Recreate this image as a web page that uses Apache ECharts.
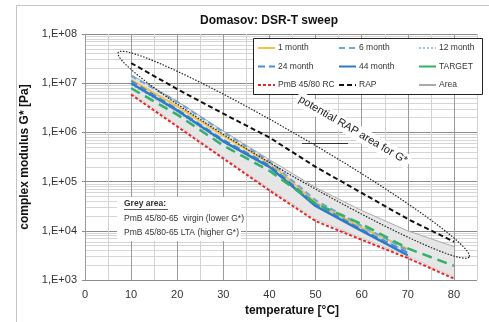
<!DOCTYPE html>
<html>
<head>
<meta charset="utf-8">
<script src="https://cdn.jsdelivr.net/npm/echarts@6/dist/echarts.min.js"></script>
<style>
  html, body { margin: 0; padding: 0; background: #fff; }
  #chart { width: 489px; height: 322px; }
</style>
</head>
<body>
<div id="chart"></div>
<script>
// temperatures [°C]
const temps = [10, 20, 30, 40, 50, 60, 70];
const tempsLong = [10, 20, 30, 40, 50, 60, 70, 80];

// complex modulus G* [Pa]
const month1 = [1.17e7, 3.4e6, 8.5e5, 2.4e5, 3.8e4, 1.17e4, 4.3e3];
const month6 = [1.41e7, 4.2e6, 1.02e6, 2.6e5, 4.2e4, 1.26e4, 4.0e3];
const month12 = [9.3e6, 2.6e6, 6.3e5, 1.9e5, 3.4e4, 1.1e4, 3.7e3];
const month24 = [1.12e7, 2.95e6, 7.1e5, 2.15e5, 3.55e4, 1.07e4, 3.6e3];
const month44 = [1.0e7, 2.8e6, 6.6e5, 2.0e5, 3.2e4, 1.0e4, 3.2e3];
const target = [7.9e6, 2.3e6, 5.4e5, 1.66e5, 3.6e4, 1.38e4, 4.4e3, 1.95e3];
const pmbRC = [5.9e6, 1.32e6, 2.95e5, 6.6e4, 1.58e4, 6.6e3, 2.8e3, 1.07e3];
const rap = [2.57e7, 7.6e6, 2.4e6, 7.9e5, 2.0e5, 5.9e4, 1.74e4, 6.0e3];
// grey area boundaries
const areaLTA = [1.48e7, 4.3e6, 1.07e6, 2.8e5, 7.6e4, 2.6e4, 1.0e4, 4.8e3];
const areaVirgin = [6.3e6, 1.41e6, 3.16e5, 7.2e4, 1.74e4, 7.2e3, 3.1e3, 1.15e3];

// "potential RAP area" ellipse: ends of the long axis
const ellipseT = [7.2, 83.3];
const ellipseG = [4.2e7, 2.95e3];

const font = "'Liberation Sans', Arial, sans-serif";
var chartDom = document.getElementById("chart");
var myChart = echarts.init(chartDom);

function pairs(xs, ys) {
  return xs.map((x, i) => [x, ys[i]]);
}

function lineSeries(name, xs, ys, color, width, type, z) {
  return {
    name: name,
    type: "line",
    data: pairs(xs, ys),
    symbol: "none",
    z: z || 2,
    lineStyle: { color: color, width: width, type: type },
    itemStyle: { color: color },
  };
}

function legendCol(names, left) {
  return {
    orient: "vertical",
    left: left,
    top: 43,
    padding: 0,
    itemGap: 8.5,
    itemWidth: 17,
    itemHeight: 10,
    z: 6,
    data: names,
    itemStyle: { opacity: 0 },
    textStyle: { fontSize: 8.5, color: "#333", fontFamily: font, lineHeight: 10, padding: [0, 0, 0, -2] },
  };
}

var option = {
  animation: false,
  title: {
    text: "Domasov: DSR-T sweep",
    left: 264,
    top: 10,
    textAlign: "center",
    textStyle: { fontSize: 12, fontWeight: "bold", color: "#111", fontFamily: font },
  },
  legend: [
    legendCol(["1 month", "24 month", "PmB 45/80 RC"], 257),
    legendCol(["6 month", "44 month", "RAP"], 338),
    legendCol(["12 month", { name: "TARGET", lineStyle: { type: "solid" } }, "Area"], 418),
  ],
  grid: { left: 85, right: 12, top: 34, bottom: 41 },
  xAxis: {
    type: "value",
    min: 0,
    max: 85,
    interval: 5,
    name: "temperature [°C]",
    nameLocation: "middle",
    nameGap: 23,
    nameTextStyle: { fontSize: 12, fontWeight: "bold", color: "#111", fontFamily: font, padding: [0, 0, 0, 22] },
    axisLine: { show: false },
    axisTick: { show: false },
    axisLabel: {
      margin: 9,
      fontSize: 11,
      color: "#333",
      fontFamily: font,
      formatter: (v) => (v % 10 === 0 ? String(v) : ""),
    },
    splitLine: { show: true, lineStyle: { color: ["#9a9a9a", "#d2d2d2"], width: 1 } },
  },
  yAxis: {
    type: "log",
    logBase: 10,
    min: 1e3,
    max: 1e8,
    name: "complex modulus G* [Pa]",
    nameLocation: "middle",
    nameRotate: 90,
    nameGap: 40,
    nameTextStyle: { fontSize: 12, fontWeight: "bold", color: "#111", fontFamily: font },
    axisLine: { show: false },
    axisTick: { show: true, length: 3, lineStyle: { color: "#888" } },
    axisLabel: {
      margin: 8,
      fontSize: 11,
      color: "#333",
      fontFamily: font,
      formatter: (v) => "1,E+0" + Math.round(Math.log10(v)),
    },
    splitLine: { show: true, lineStyle: { color: "#8c8c8c", width: 1 } },
    minorTick: { show: false, splitNumber: 9 },
    minorSplitLine: { show: true, lineStyle: { color: "#d6d6d6", width: 1 } },
  },
  series: [
    {
      name: "areaFill",
      type: "custom",
      z: 1,
      silent: true,
      data: tempsLong.map((t, i) => [t, areaLTA[i], areaVirgin[i]]),
      encode: { x: 0, y: [1, 2] },
      renderItem: function (params, api) {
        if (params.dataIndex !== 0) return null;
        const upper = tempsLong.map((t, i) => api.coord([t, areaLTA[i]]));
        const lower = tempsLong.map((t, i) => api.coord([t, areaVirgin[i]])).reverse();
        return {
          type: "polygon",
          shape: { points: upper.concat(lower) },
          style: { fill: "#e6e6e6", stroke: null },
        };
      },
    },
    lineSeries("Area", tempsLong, areaLTA, "#aaaaaa", 1, "solid", 2),
    lineSeries("Area", tempsLong, areaVirgin, "#cfcfcf", 1, "solid", 2),
    lineSeries("1 month", temps, month1, "#f3c146", 2, "solid", 3),
    lineSeries("6 month", temps, month6, "#6ea6dc", 2, [6, 4], 3),
    lineSeries("12 month", temps, month12, "#9cc3e6", 1.5, [2, 2], 3),
    lineSeries("24 month", temps, month24, "#4a8fd4", 2, [7, 4], 3),
    lineSeries("44 month", temps, month44, "#2f7ac4", 2.5, "solid", 3),
    lineSeries("TARGET", tempsLong, target, "#34b068", 2.5, [10, 6], 3),
    lineSeries("PmB 45/80 RC", tempsLong, pmbRC, "#e8262a", 2, [3, 2], 4),
    lineSeries("RAP", tempsLong, rap, "#111111", 2, [5, 3], 4),
    {
      name: "rapEllipse",
      type: "custom",
      z: 4,
      silent: true,
      clip: false,
      data: [[ellipseT[0], ellipseG[0], ellipseT[1], ellipseG[1]]],
      encode: { x: [0, 2], y: [1, 3] },
      renderItem: function (params, api) {
        const a = api.coord([api.value(0), api.value(1)]);
        const b = api.coord([api.value(2), api.value(3)]);
        const cx = (a[0] + b[0]) / 2, cy = (a[1] + b[1]) / 2;
        const rx = Math.hypot(b[0] - a[0], b[1] - a[1]) / 2;
        const ry = 19;
        const ang = Math.atan2(b[1] - a[1], b[0] - a[0]);
        const pts = [];
        for (let k = 0; k < 120; k++) {
          const t = (k / 120) * Math.PI * 2;
          const x = rx * Math.cos(t), y = ry * Math.sin(t);
          pts.push([cx + x * Math.cos(ang) - y * Math.sin(ang), cy + x * Math.sin(ang) + y * Math.cos(ang)]);
        }
        return {
          type: "polygon",
          shape: { points: pts },
          style: { fill: "none", stroke: "#222", lineWidth: 1.2, lineDash: [1.5, 1.5] },
        };
      },
    },
  ],
  graphic: [
    {
      type: "rect",
      z: 0,
      silent: true,
      shape: { x: 16.5, y: 5.5, width: 490, height: 330 },
      style: { fill: "none", stroke: "#c4c4c4", lineWidth: 1 },
    },
    {
      type: "rect",
      z: 5,
      silent: true,
      shape: { x: 253.5, y: 38.5, width: 229, height: 56 },
      style: { fill: "#fff", stroke: "#222", lineWidth: 1 },
    },
    {
      type: "rect",
      z: 5,
      silent: true,
      shape: { x: 117, y: 197, width: 124, height: 44 },
      style: { fill: "#fff", stroke: null },
    },
    {
      type: "text",
      z: 6,
      silent: true,
      x: 124,
      y: 204,
      style: { text: "Grey area:", font: "bold 8.5px " + font, fill: "#333", verticalAlign: "middle" },
    },
    {
      type: "line",
      z: 6,
      silent: true,
      shape: { x1: 124, y1: 209.5, x2: 168, y2: 209.5 },
      style: { stroke: "#333", lineWidth: 0.8 },
    },
    {
      type: "text",
      z: 6,
      silent: true,
      x: 124,
      y: 219,
      style: { text: "PmB 45/80-65  virgin (lower G*)", font: "8.5px " + font, fill: "#333", verticalAlign: "middle" },
    },
    {
      type: "text",
      z: 6,
      silent: true,
      x: 124,
      y: 233,
      style: { text: "PmB 45/80-65 LTA (higher G*)", font: "8.5px " + font, fill: "#333", verticalAlign: "middle" },
    },
    {
      type: "text",
      z: 6,
      silent: true,
      x: 353,
      y: 130,
      rotation: -0.53,
      style: {
        text: "potential RAP area for G*",
        font: "11px " + font,
        fill: "#222",
        align: "center",
        verticalAlign: "middle",
        backgroundColor: "#fff",
        padding: [2, 3],
      },
    },
    {
      type: "line",
      z: 6,
      silent: true,
      shape: { x1: 302, y1: 143.5, x2: 348, y2: 143.5 },
      style: { stroke: "#333", lineWidth: 1 },
    },
  ],
};

option && myChart.setOption(option);
</script>
</body>
</html>
